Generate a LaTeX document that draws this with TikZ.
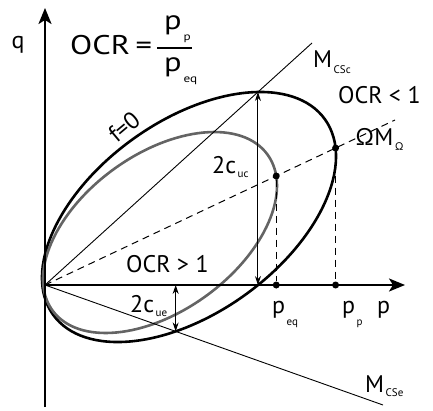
\documentclass[tikz,border=0pt]{standalone}
\usepackage{fontspec}
\setmainfont{PT Sans}
\usetikzlibrary{arrows.meta,intersections,calc}
\definecolor{ellgrey}{HTML}{646464}
\newcommand\subx[2][5pt]{\hspace{1.5pt}\raisebox{-#1}{\fontsize{11}{11}\selectfont #2}}
\begin{document}
\begin{tikzpicture}[x=1pt,y=1pt,
  lbl/.style={inner sep=0pt, anchor=base west, font=\fontsize{24}{28}\selectfont},
  biglbl/.style={inner sep=0pt, anchor=base west, font=\fontsize{27}{30}\selectfont, xscale=1.2},
  axisline/.style={line width=2.2pt, -{Stealth[length=16pt,width=13pt,inset=4pt]}},
  thinline/.style={line width=0.9pt},
  dashline/.style={line width=1pt, dash pattern=on 7pt off 5pt},
  outerell/.style={line width=2.6pt},
  innerell/.style={line width=2.6pt, draw=ellgrey},
  dimarrow/.style={line width=0.9pt, {Stealth[length=9pt,width=6pt]}-{Stealth[length=9pt,width=6pt]}},
  dotnode/.style={circle, fill, inner sep=0pt, minimum size=7pt},
]
\useasboundingbox (-45,-125) rectangle (388,285);
\coordinate (O) at (0,0);
\coordinate (qbot) at (0,-122);
\coordinate (qtop) at (0,277);
\coordinate (ptip) at (360,0);
\coordinate (csc) at (267,242);
\coordinate (cse) at (338,-120);
\coordinate (om) at (350,165);
\coordinate (barL) at (112,237);
\coordinate (barR) at (147,237);
\coordinate (oC) at (144,68);
\coordinate (iC) at (115,52.5);

% yield surfaces
\draw[outerell, name path=outer, rotate around={35.73:(oC)}] (oC) ellipse [x radius=167.4, y radius=96.0];
\draw[innerell, name path=inner, rotate around={35.9:(iC)}] (iC) ellipse [x radius=132.8, y radius=78.4];

% lines through origin
\draw[thinline] (O) -- (csc);
\draw[thinline] (O) -- (cse);
\draw[dashline] (O) -- (om);

% helper paths for intersections
\path[name path=cscH] ($(O)!0.3!(csc)$) -- (csc);
\path[name path=cseH] ($(O)!0.15!(cse)$) -- ($(O)!0.75!(cse)$);
\path[name path=omH] ($(O)!0.3!(om)$) -- (om);
\path[name intersections={of=outer and cscH, by=top}];
\path[name intersections={of=outer and cseH, by=bot}];
\path[name intersections={of=outer and omH, by=pp}];
\path[name intersections={of=inner and omH, by=peq}];

% dots and dashed verticals
\node[dotnode] (dpp) at (pp) {};
\node[dotnode] (dppax) at (pp |- O) {};
\node[dotnode] (dpeq) at (peq) {};
\node[dotnode] (dpeqax) at (peq |- O) {};
\draw[dashline] (dpp) -- (dppax);
\draw[dashline] (dpeq) -- (dpeqax);

% dimension arrows
\coordinate (topax) at (top |- O);
\coordinate (botax) at (bot |- O);
\draw[dimarrow] (top) -- (topax);
\draw[dimarrow] (botax) -- (bot);

% axes
\draw[axisline] (qbot) -- (qtop);
\draw[axisline] (O) -- (ptip);

% labels
\node[lbl, anchor=base] (lq) at (-27,236) {q};
\node[biglbl] (locr) at (25,230) {OCR\,=};
\draw[line width=1.4pt] (barL) -- (barR);
\node[biglbl] (lnum) at (119,255) {p\subx[11pt]{p}};
\node[biglbl] (lden) at (119,213) {p\subx[11pt]{eq}};
\node[lbl, rotate=40, anchor=center] (lf) at (79,158) {f=0};
\node[lbl] (lcsc) at (268,217) {M\subx[5pt]{CSc}};
\node[lbl] (locrl) at (293,182) {OCR < 1};
\node[lbl] (lom) at (310,140) {ΩM\subx[5pt]{Ω}};
\node[lbl] (luc) at (167,112) {2c\subx[4pt]{uc}};
\node[lbl] (locrg) at (81,13) {OCR > 1};
\node[lbl] (lue) at (85,-27) {2c\subx[4pt]{ue}};
\node[lbl] (lpeq) at (227,-28) {p\subx[12pt]{eq}};
\node[lbl] (lpp) at (297,-28) {p\subx[12pt]{p}};
\node[lbl] (lp) at (332,-28) {p};
\node[lbl] (lcse) at (320,-107) {M\subx[4pt]{CSe}};
\end{tikzpicture}
\end{document}
